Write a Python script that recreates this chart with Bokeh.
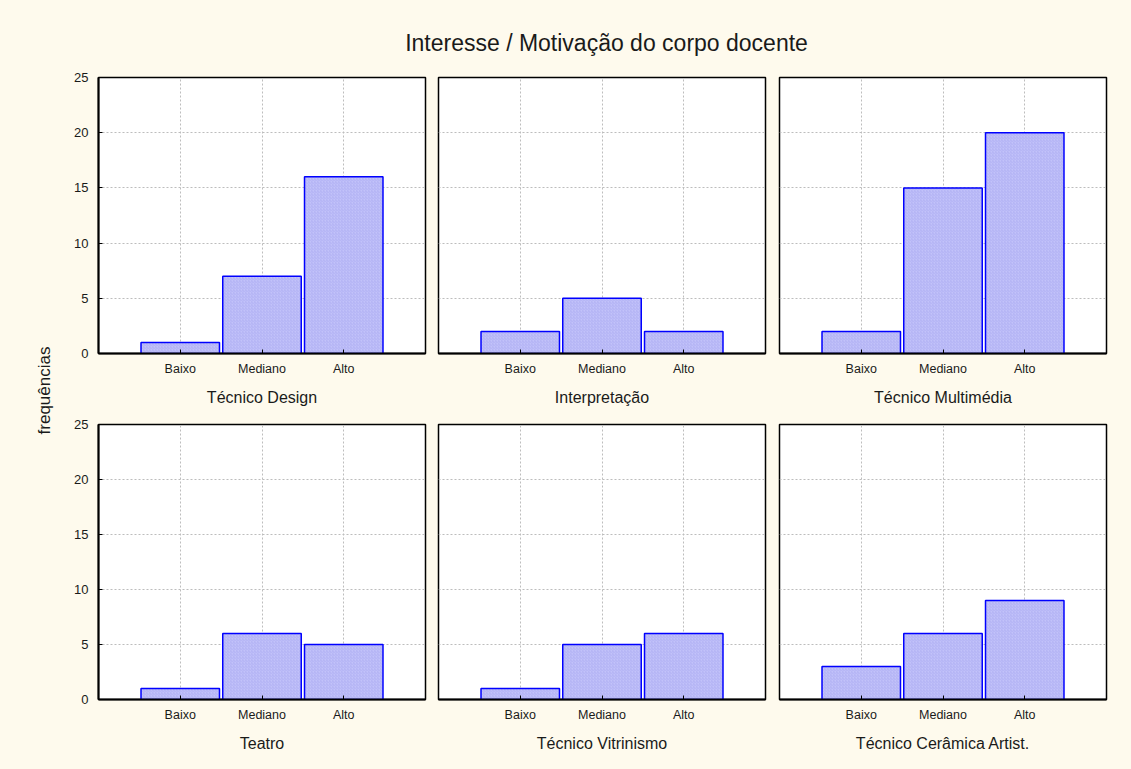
from bokeh.plotting import figure
from bokeh.models import FactorRange, Range1d, FixedTicker, Label
from bokeh.layouts import row, column
from bokeh.embed import file_html
from bokeh.resources import INLINE

# ---- data ----
categories = ["Baixo", "Mediano", "Alto"]
panel_titles = ["Técnico Design", "Interpretação", "Técnico Multimédia",
                "Teatro", "Técnico Vitrinismo", "Técnico Cerâmica Artist."]
tecnico_design = [1, 7, 16]
interpretacao = [2, 5, 2]
tecnico_multimedia = [2, 15, 20]
teatro = [1, 6, 5]
tecnico_vitrinismo = [1, 5, 6]
tecnico_ceramica = [3, 6, 9]
y_ticks = [0, 5, 10, 15, 20, 25]
chart_title = "Interesse / Motivação do corpo docente"
y_label = "frequências"

series = [tecnico_design, interpretacao, tecnico_multimedia,
          teatro, tecnico_vitrinismo, tecnico_ceramica]

BG = "#fefaed"
FONT = "Liberation Sans"
TXT = "#1a1a1a"

col_widths = [373, 341, 343]
col_left = [40, 7, 7]
col_right = [6, 7, 9]
row_heights = [352, 348]
row_top = [19, 14]
row_bottom = [57, 59]


def make_panel(i):
    r, c = divmod(i, 3)
    p = figure(width=col_widths[c], height=row_heights[r],
               x_range=FactorRange(factors=categories, range_padding=0.5,
                                   range_padding_units="absolute"),
               y_range=Range1d(0, 25),
               output_backend="svg", toolbar_location=None,
               min_border_left=col_left[c], min_border_right=col_right[c],
               min_border_top=row_top[r], min_border_bottom=row_bottom[r])
    p.border_fill_color = BG
    p.background_fill_color = "white"
    p.outline_line_color = "black"
    p.outline_line_width = 1.5
    p.vbar(x=categories, top=series[i], width=0.96, bottom=0,
           fill_color="#c2c2fa", line_color="#0000ff", line_width=1.5,
           hatch_pattern="/", hatch_color="#a8a8f0", hatch_scale=3,
           hatch_weight=0.6)
    # grids
    p.grid.grid_line_color = "#bdbdbd"
    p.grid.grid_line_dash = "2 2"
    p.grid.grid_line_width = 1
    p.yaxis.ticker = FixedTicker(ticks=y_ticks)
    p.ygrid.ticker = FixedTicker(ticks=y_ticks)
    # axes
    for ax in (p.xaxis[0], p.yaxis[0]):
        ax.axis_line_color = "black"
        ax.axis_line_width = 2
        ax.major_tick_in = 4
        ax.major_tick_out = 0
        ax.minor_tick_in = 0
        ax.minor_tick_out = 0
        ax.major_tick_line_color = "black"
        ax.major_label_text_font = FONT
        ax.major_label_text_color = TXT
        ax.axis_label_text_font = FONT
        ax.axis_label_text_color = TXT
    p.xaxis.major_label_text_font_size = "12.5px"
    p.xaxis.major_label_standoff = 8
    p.xaxis.axis_label = panel_titles[i]
    p.xaxis.axis_label_text_font_size = "16px"
    p.xaxis.axis_label_text_font_style = "normal"
    p.xaxis.axis_label_standoff = 10
    if c == 0:
        p.yaxis.major_label_text_font_size = "13px"
        p.yaxis.major_label_standoff = 10
    else:
        p.yaxis.visible = False
    return p


panels = [make_panel(i) for i in range(6)]

# title strip
total_w = sum(col_widths)
tfig = figure(width=total_w, height=58, output_backend="svg",
              toolbar_location=None, x_axis_location=None, y_axis_location=None,
              min_border=0)
tfig.border_fill_color = BG
tfig.background_fill_color = BG
tfig.outline_line_color = None
tfig.grid.visible = False
tfig.add_layout(Label(x=548, y=16, x_units="screen", y_units="screen",
                      text=chart_title, text_font=FONT, text_font_size="23px",
                      text_color=TXT, text_align="center", text_baseline="middle"))

# y label strip
yfig = figure(width=58, height=58 + sum(row_heights), output_backend="svg",
              toolbar_location=None, x_axis_location=None, y_axis_location=None,
              min_border=0)
yfig.border_fill_color = BG
yfig.background_fill_color = BG
yfig.outline_line_color = None
yfig.grid.visible = False
yfig.add_layout(Label(x=44, y=368, x_units="screen", y_units="screen",
                      text=y_label, text_font=FONT, text_font_size="17px",
                      text_color=TXT, text_align="center", text_baseline="middle",
                      angle=90, angle_units="deg"))

layout = row(yfig, column(tfig, row(*panels[:3]), row(*panels[3:])))

html = file_html(layout, INLINE)
html = html.replace("</head>", "<style>html,body{background:%s;}</style></head>" % BG, 1)
open("out.html", "w").write(html)
